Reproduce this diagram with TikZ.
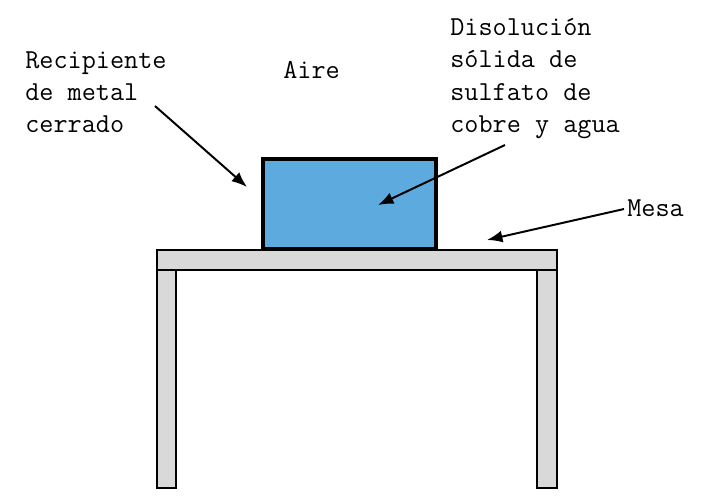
\documentclass[tikz,border=0pt]{standalone}
\usepackage{fontspec}
\usetikzlibrary{arrows.meta, positioning}
\definecolor{solucion}{RGB}{92,170,222}
\definecolor{madera}{RGB}{217,217,217}

\begin{document}
\begin{tikzpicture}[x=0.025cm, y=-0.025cm,
                    texto/.style= {font=\ttfamily\fontsize{19.5}{23}\selectfont,
                      align=left,
                      inner sep=0pt,
                      anchor=north west},
                    tabla/.style= {draw=black, fill=madera, line width=0.9pt},
                    flecha/.style= {-{Latex[length=11pt, width=8.5pt]}, line width=1.4pt}]

  \useasboundingbox (0,0) rectangle (703,496);

  % mesa
  \draw[tabla] (157,250) rectangle (557,270);
  \draw[tabla] (157,270) rectangle (176,488);
  \draw[tabla] (537,270) rectangle (557,488);

  % recipiente
  \draw[draw=black, fill=solucion, line width=2.6pt] (263,159) rectangle (436,249);

  \node[texto] (recipiente) at (25,51) {Recipiente\\de metal\\cerrado};
  \node[texto] (aire) at (283,61) {Aire};
  \node[texto] (disolucion) at (450,18) {Disolución\\sólida de\\sulfato de\\cobre y agua};
  \node[texto] (mesa) at (627,199) {Mesa};

  \coordinate (rec a) at (155,106);
  \coordinate (rec b) at (247,187);
  \coordinate (dis a) at (505,145);
  \coordinate (dis b) at (378,205);
  \coordinate (mes a) at (624,209);
  \coordinate (mes b) at (487,240);

  \draw[flecha] (rec a) -- (rec b);
  \draw[flecha] (dis a) -- (dis b);
  \draw[flecha] (mes a) -- (mes b);
\end{tikzpicture}
\end{document}
